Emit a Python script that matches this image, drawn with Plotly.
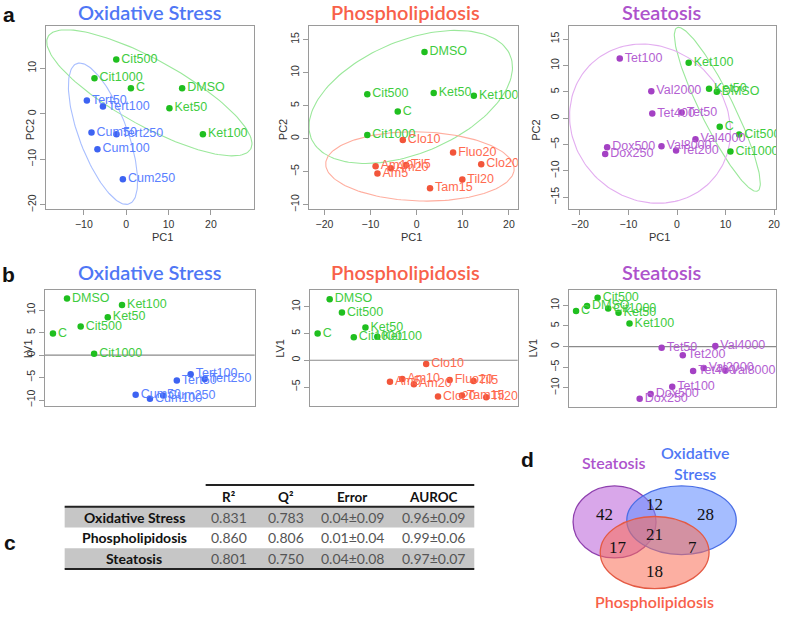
import numpy as np
import plotly.graph_objects as go

W, H = 787, 617

# ---------------- Panel a: PCA scores ----------------
ox_pca_ctrl_labels = ["Cit500", "Cit1000", "C", "DMSO", "Ket50", "Ket100"]
ox_pca_ctrl_pc1 = [-2.35, -7.5, 1.1, 13.2, 10.2, 18.1]
ox_pca_ctrl_pc2 = [11.9, 7.8, 5.6, 5.6, 1.2, -4.5]
ox_pca_tox_labels = ["Tert50", "Tert100", "Cum50", "Tert250", "Cum100", "Cum250"]
ox_pca_tox_pc1 = [-9.3, -5.5, -8.2, -2.3, -6.8, -0.8]
ox_pca_tox_pc2 = [2.9, 1.6, -4.1, -4.5, -7.8, -14.4]

ph_pca_ctrl_labels = ["DMSO", "Cit500", "Ket50", "Ket100", "C", "Cit1000"]
ph_pca_ctrl_pc1 = [1.7, -10.7, 3.7, 12.4, -4.1, -10.7]
ph_pca_ctrl_pc2 = [13.1, 6.7, 6.9, 6.5, 4.1, 0.55]
ph_pca_tox_labels = ["Clo10", "Fluo20", "Clo20", "Am10", "Am20", "Til5", "Am5", "Til20", "Tam15"]
ph_pca_tox_pc1 = [-3.0, 7.9, 14.0, -8.9, -5.6, -2.3, -8.5, 9.9, 2.9]
ph_pca_tox_pc2 = [-0.2, -2.1, -3.9, -4.2, -4.5, -4.0, -5.3, -6.2, -7.5]

st_pca_ctrl_labels = ["Ket100", "Ket50", "DMSO", "C", "Cit500", "Cit1000"]
st_pca_ctrl_pc1 = [2.4, 6.6, 8.2, 8.8, 12.8, 11.0]
st_pca_ctrl_pc2 = [10.5, 5.6, 5.0, -1.6, -3.1, -6.3]
st_pca_tox_labels = ["Tet100", "Val2000", "Tet400", "Tet50", "Val4000", "Dox500", "Val8000", "Tet200", "Dox250"]
st_pca_tox_pc1 = [-11.8, -5.3, -5.1, 0.95, 3.8, -14.4, -3.2, -0.2, -14.8]
st_pca_tox_pc2 = [11.3, 5.1, 0.9, 1.1, -4.0, -5.5, -5.3, -6.1, -6.8]

# ---------------- Panel b: PLS scores ----------------
ox_pls_ctrl_labels = ["DMSO", "Ket100", "Ket50", "Cit500", "C", "Cit1000"]
ox_pls_ctrl_x = [10.6, 36.8, 30.0, 17.1, 3.9, 23.5]
ox_pls_ctrl_lv1 = [12.6, 11.15, 8.4, 6.35, 4.8, 0.3]
ox_pls_tox_labels = ["Tert100", "Tert50", "Tert250", "Cum50", "Cum250", "Cum100"]
ox_pls_tox_x = [69.5, 62.9, 76.2, 43.3, 56.4, 50.1]
ox_pls_tox_lv1 = [-4.27, -5.67, -5.3, -8.85, -9.0, -9.7]

ph_pls_ctrl_labels = ["DMSO", "Cit500", "Ket50", "C", "Cit1000", "Ket100"]
ph_pls_ctrl_x = [9.6, 15.5, 26.8, 3.8, 21.2, 32.5]
ph_pls_ctrl_lv1 = [11.4, 8.9, 6.1, 5.0, 4.3, 4.4]
ph_pls_tox_labels = ["Clo10", "Am10", "Am5", "Am20", "Fluo20", "Til5", "Clo20", "Tam15", "Til20"]
ph_pls_tox_x = [56.0, 44.5, 38.6, 50.1, 67.3, 78.8, 61.7, 73.2, 84.9]
ph_pls_tox_lv1 = [-0.7, -3.5, -4.0, -4.5, -3.7, -3.85, -6.75, -6.6, -6.9]

st_pls_ctrl_labels = ["Cit500", "DMSO", "Cit1000", "C", "Ket50", "Ket100"]
st_pls_ctrl_x = [13.9, 8.8, 19.0, 3.5, 24.0, 29.3]
st_pls_ctrl_lv1 = [11.8, 9.8, 9.2, 8.6, 8.2, 5.6]
st_pls_tox_labels = ["Tet50", "Val4000", "Tet200", "Val2000", "Tet400", "Val8000", "Tet100", "Dox500", "Dox250"]
st_pls_tox_x = [44.8, 70.7, 55.0, 65.1, 60.0, 75.6, 49.9, 39.5, 34.2]
st_pls_tox_lv1 = [-0.25, 0.15, -2.1, -5.2, -5.9, -5.8, -9.7, -11.5, -12.6]

# ---------------- Panel c: model table ----------------
table_models = ["Oxidative Stress", "Phospholipidosis", "Steatosis"]
table_headers = ["R²", "Q²", "Error", "AUROC"]
table_r2 = ["0.831", "0.860", "0.801"]
table_q2 = ["0.783", "0.806", "0.750"]
table_error = ["0.04±0.09", "0.01±0.04", "0.04±0.08"]
table_auroc = ["0.96±0.09", "0.99±0.06", "0.97±0.07"]

# ---------------- Panel d: Venn counts ----------------
venn_sets = ["Steatosis", "Oxidative<br>Stress", "Phospholipidosis"]
venn_counts = {"S": 42, "SO": 12, "O": 28, "SOP": 21, "SP": 17, "OP": 7, "P": 18}

# ---------------- styles ----------------
GREEN_PT, GREEN_TX, GREEN_EL = "#1fbf1f", "#3fcc3f", "#9be89b"
BLUE_PT, BLUE_TX, BLUE_EL, BLUE_T = "#3d63f2", "#5a80ff", "#a9bfff", "#4f77f5"
RED_PT, RED_TX, RED_EL, RED_T = "#f2553a", "#ff6a50", "#ffae9f", "#f8614a"
PUR_PT, PUR_TX, PUR_EL, PUR_T = "#a441c4", "#b45fd2", "#e3aef0", "#ad52cc"

TITLE_FONT = "Lato"
AX_FONT = "Liberation Sans"


def px_x(p):
    return p / W


def px_y(p):
    return 1 - p / H


def conf_ellipse(xs, ys, scale=2.4477, n=160):
    pts = np.column_stack([xs, ys])
    mu = pts.mean(axis=0)
    cov = np.cov(pts, rowvar=False)
    vals, vecs = np.linalg.eigh(cov)
    t = np.linspace(0, 2 * np.pi, n)
    circ = np.vstack([np.cos(t), np.sin(t)])
    ell = (vecs @ np.diag(scale * np.sqrt(vals)) @ circ).T + mu
    return ell[:, 0], ell[:, 1]


fig = go.Figure()

panels = [
    dict(n=1, box=(46, 255, 26, 210), xr=[-19, 30.1], yr=[-20.9, 19.3],
         xt=[-10, 0, 10, 20], yt=[-20, -10, 0, 10],
         ctrl=(ox_pca_ctrl_pc1, ox_pca_ctrl_pc2, ox_pca_ctrl_labels),
         tox=(ox_pca_tox_pc1, ox_pca_tox_pc2, ox_pca_tox_labels),
         col=(BLUE_PT, BLUE_TX, BLUE_EL), ell=True),
    dict(n=2, box=(310.3, 520.3, 26, 210), xr=[-23.4, 21.9], yr=[-10.65, 17.06],
         xt=[-20, -10, 0, 10, 20], yt=[-10, -5, 0, 5, 10, 15],
         ctrl=(ph_pca_ctrl_pc1, ph_pca_ctrl_pc2, ph_pca_ctrl_labels),
         tox=(ph_pca_tox_pc1, ph_pca_tox_pc2, ph_pca_tox_labels),
         col=(RED_PT, RED_TX, RED_EL), ell=True),
    dict(n=3, box=(571.7, 780, 26, 210), xr=[-22.3, 20.4], yr=[-17.2, 17.5],
         xt=[-20, -10, 0, 10, 20], yt=[-15, -10, -5, 0, 5, 10, 15],
         ctrl=(st_pca_ctrl_pc1, st_pca_ctrl_pc2, st_pca_ctrl_labels),
         tox=(st_pca_tox_pc1, st_pca_tox_pc2, st_pca_tox_labels),
         col=(PUR_PT, PUR_TX, PUR_EL), ell=True),
    dict(n=4, box=(45, 256, 291.7, 408.3), xr=[0, 100], yr=[-11.4, 14.4],
         xt=[], yt=[-10, -5, 0, 5, 10],
         ctrl=(ox_pls_ctrl_x, ox_pls_ctrl_lv1, ox_pls_ctrl_labels),
         tox=(ox_pls_tox_x, ox_pls_tox_lv1, ox_pls_tox_labels),
         col=(BLUE_PT, BLUE_TX, BLUE_EL), ell=False),
    dict(n=5, box=(311.3, 520.3, 291, 408.3), xr=[0, 100], yr=[-8.6, 13.2],
         xt=[], yt=[-5, 0, 5, 10],
         ctrl=(ph_pls_ctrl_x, ph_pls_ctrl_lv1, ph_pls_ctrl_labels),
         tox=(ph_pls_tox_x, ph_pls_tox_lv1, ph_pls_tox_labels),
         col=(RED_PT, RED_TX, RED_EL), ell=False),
    dict(n=6, box=(571.7, 780, 291, 409.3), xr=[0, 100], yr=[-14.7, 13.8],
         xt=[], yt=[-10, -5, 0, 5, 10],
         ctrl=(st_pls_ctrl_x, st_pls_ctrl_lv1, st_pls_ctrl_labels),
         tox=(st_pls_tox_x, st_pls_tox_lv1, st_pls_tox_labels),
         col=(PUR_PT, PUR_TX, PUR_EL), ell=False),
]

shapes = []
annotations = []

for p in panels:
    n = p["n"]
    xa = "x" if n == 1 else f"x{n}"
    ya = "y" if n == 1 else f"y{n}"
    pt, tx, el = p["col"]
    groups = [(p["ctrl"], GREEN_PT, GREEN_TX, GREEN_EL), (p["tox"], pt, tx, el)]
    if p["ell"]:
        for (gx, gy, _), _, _, ec in groups:
            ex, ey = conf_ellipse(gx, gy)
            fig.add_trace(go.Scatter(x=ex, y=ey, mode="lines", xaxis=xa, yaxis=ya,
                                     line=dict(color=ec, width=1.1), hoverinfo="skip",
                                     showlegend=False))
    else:
        shapes.append(dict(type="line", xref=f"{xa} domain", yref=ya, x0=0, x1=1, y0=0, y1=0,
                           line=dict(color="#8a8a8a", width=1.2), layer="below"))
    for (gx, gy, gl), pc, tc, _ in groups:
        fig.add_trace(go.Scatter(x=gx, y=gy, text=gl, mode="markers+text", xaxis=xa, yaxis=ya,
                                 textposition="middle right",
                                 marker=dict(color=pc, size=6.5),
                                 textfont=dict(family=AX_FONT, size=12.5, color=tc),
                                 showlegend=False))
    x0, x1, y0, y1 = p["box"]
    axis_common = dict(showline=True, mirror=True, linecolor="#9a9a9a", linewidth=1,
                       showgrid=False, zeroline=False, ticklen=5,
                       tickcolor="#9a9a9a", tickfont=dict(family=AX_FONT, size=10.5, color="#333"))
    fig.update_layout(**{
        ("xaxis" if n == 1 else f"xaxis{n}"): dict(
            domain=[px_x(x0), px_x(x1)], anchor=ya, range=p["xr"],
            tickvals=p["xt"], showticklabels=bool(p["xt"]),
            ticks="outside" if p["xt"] else "", **axis_common),
        ("yaxis" if n == 1 else f"yaxis{n}"): dict(
            domain=[px_y(y1), px_y(y0)], anchor=xa, range=p["yr"],
            tickvals=p["yt"], tickangle=-90, ticks="outside", **axis_common),
    })

# titles
title_specs = [
    ("Oxidative Stress", 150.4, 12, BLUE_T), ("Phospholipidosis", 407.3, 12, RED_T),
    ("Steatosis", 665.7, 12, PUR_T),
    ("Oxidative Stress", 150.4, 273, BLUE_T), ("Phospholipidosis", 407.3, 273, RED_T),
    ("Steatosis", 665.7, 273, PUR_T),
]
for t, x, y, c in title_specs:
    annotations.append(dict(text=t, x=px_x(x), y=px_y(y), xref="paper", yref="paper",
                            xanchor="center", yanchor="middle", showarrow=False,
                            font=dict(family=TITLE_FONT, size=20, color=c, weight=600)))

# axis titles
for x in (150.4, 413.7, 675.7):
    annotations.append(dict(text="PC1", x=px_x(x), y=px_y(238), xref="paper", yref="paper",
                            showarrow=False, font=dict(family=AX_FONT, size=11, color="#333")))
for x in (22.5, 284.7, 546.7):
    annotations.append(dict(text="PC2", x=px_x(x), y=px_y(118), xref="paper", yref="paper",
                            textangle=-90, showarrow=False,
                            font=dict(family=AX_FONT, size=11, color="#333")))
for x, y in ((20, 350), (282, 350), (544, 350)):
    annotations.append(dict(text="LV1", x=px_x(x), y=px_y(y), xref="paper", yref="paper",
                            textangle=-90, showarrow=False,
                            font=dict(family=AX_FONT, size=11, color="#333")))

# panel letters
for t, x, y in (("a", 9, 15), ("b", 9, 276), ("c", 10, 545), ("d", 530, 462)):
    annotations.append(dict(text=t, x=px_x(x), y=px_y(y), xref="paper", yref="paper",
                            xanchor="center", yanchor="middle", showarrow=False,
                            font=dict(family="Liberation Sans", size=21, color="#111", weight="bold")))

# ---------------- table (panel c) ----------------
tbl_left, tbl_right, tbl_hdr_left = 65, 476.7, 206.7
row_tops = [509.3, 530.2, 551.0]
row_h = 20.8
col_x = [230, 287, 354, 436]
for ri in (0, 2):
    shapes.append(dict(type="rect", xref="paper", yref="paper", x0=px_x(tbl_left), x1=px_x(tbl_right),
                       y0=px_y(row_tops[ri] + row_h), y1=px_y(row_tops[ri]), fillcolor="#c6c6c6",
                       line=dict(width=0), layer="below"))
for xa0, yy in ((tbl_hdr_left, 487.3), (tbl_left, row_tops[0]), (tbl_left, row_tops[2] + row_h)):
    shapes.append(dict(type="line", xref="paper", yref="paper", x0=px_x(xa0), x1=px_x(tbl_right),
                       y0=px_y(yy), y1=px_y(yy), line=dict(color="#222", width=2)))
for h, x in zip(table_headers, col_x):
    annotations.append(dict(text=h, x=px_x(x), y=px_y(499), xref="paper", yref="paper",
                            showarrow=False, xanchor="center", yanchor="middle",
                            font=dict(family=TITLE_FONT, size=13.5, color="#111", weight="bold")))
for i, m in enumerate(table_models):
    yc = row_tops[i] + row_h / 2
    annotations.append(dict(text=m, x=px_x(135), y=px_y(yc), xref="paper", yref="paper",
                            showarrow=False, xanchor="center", yanchor="middle",
                            font=dict(family=TITLE_FONT, size=14, color="#111", weight="bold")))
    for vals, x in zip((table_r2, table_q2, table_error, table_auroc), col_x):
        annotations.append(dict(text=vals[i], x=px_x(x), y=px_y(yc), xref="paper", yref="paper",
                                showarrow=False, xanchor="center", yanchor="middle",
                                font=dict(family=TITLE_FONT, size=14, color="#555")))

# ---------------- Venn (panel d) ----------------
venn_shapes = [
    ((617.7, 524.5, 41.7, 36.2), "rgba(196,120,222,0.65)", "#8e3fae"),
    ((685.0, 522.8, 55.0, 34.5), "rgba(105,145,255,0.6)", "#4a6ee6"),
    ((658.0, 555.3, 54.7, 36.3), "rgba(250,110,85,0.55)", "#e45a44"),
]
for (cx, cy, rx, ry), fc, lc in venn_shapes:
    shapes.append(dict(type="circle", xref="paper", yref="paper",
                       x0=px_x(cx - rx), x1=px_x(cx + rx), y0=px_y(cy + ry), y1=px_y(cy - ry),
                       fillcolor=fc, line=dict(color=lc, width=1.3)))
venn_pos = {"S": (607.7, 516.7), "SO": (658.3, 507.3), "O": (709, 516.7), "SOP": (658.3, 536.7),
            "SP": (620.7, 550), "OP": (696, 550), "P": (658.3, 574.3)}
for k, v in venn_counts.items():
    x, y = venn_pos[k]
    annotations.append(dict(text=str(v), x=px_x(x), y=px_y(y), xref="paper", yref="paper",
                            showarrow=False, xanchor="center", yanchor="middle",
                            font=dict(family="Liberation Serif", size=17, color="#111")))
for t, x, y, c in ((venn_sets[0], 616.7, 465, PUR_T), (venn_sets[1], 698.3, 465, BLUE_T),
                   (venn_sets[2], 658.3, 604, RED_T)):
    annotations.append(dict(text=t, x=px_x(x), y=px_y(y), xref="paper", yref="paper",
                            showarrow=False, xanchor="center", yanchor="middle",
                            font=dict(family=TITLE_FONT, size=16, color=c, weight=600)))

fig.update_layout(width=W, height=H, margin=dict(l=0, r=0, t=0, b=0),
                  paper_bgcolor="white", plot_bgcolor="white",
                  shapes=shapes, annotations=annotations, showlegend=False)

fig.write_html("out.html", config={"displayModeBar": False},
               post_script="document.body.style.margin='0px';document.body.style.padding='0px';")
